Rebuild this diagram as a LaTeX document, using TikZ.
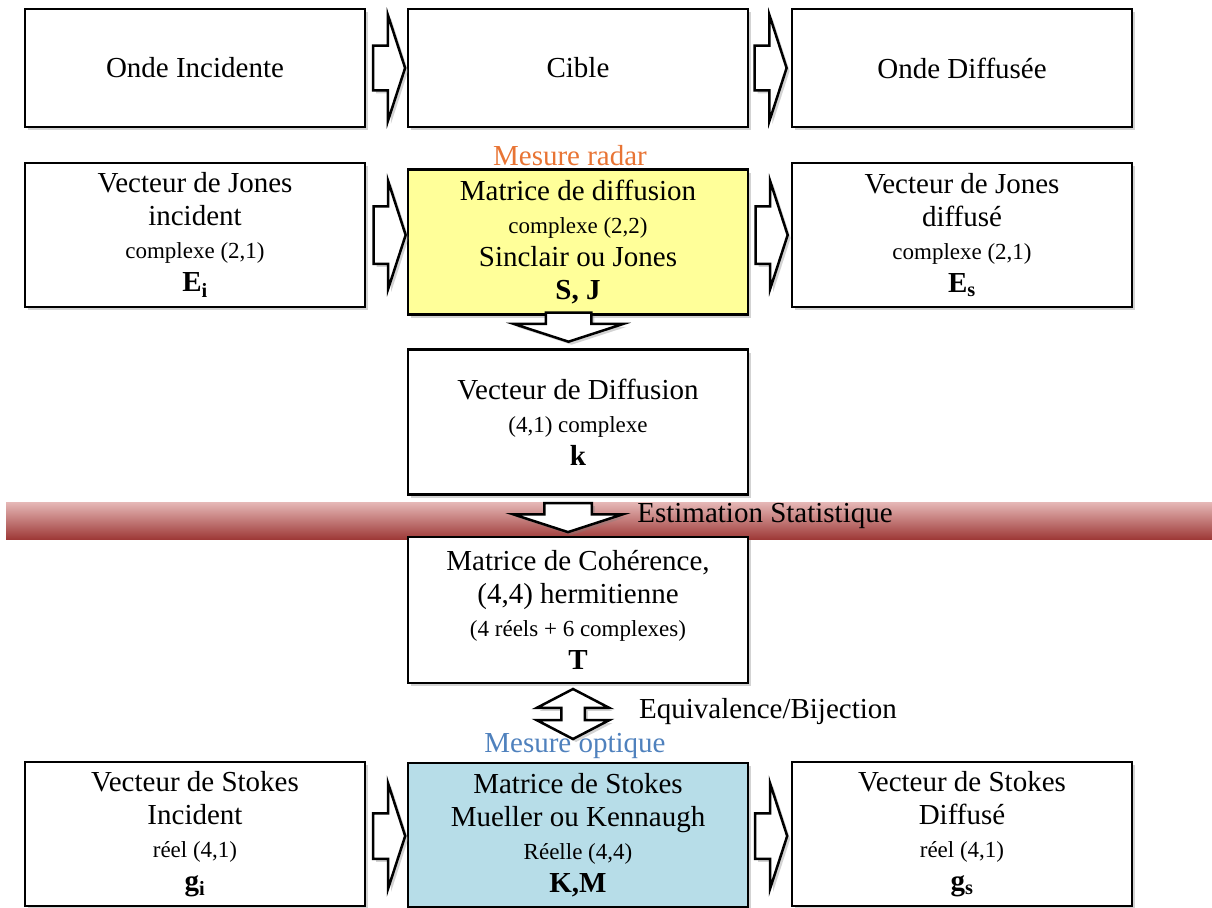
\documentclass[tikz,border=0pt]{standalone}
\usepackage{fontspec}
\setmainfont{Liberation Serif}
\usetikzlibrary{shapes.arrows, shadows, calc}
\definecolor{jaune}{RGB}{255,255,153}
\definecolor{bleuclair}{RGB}{183,221,232}
\definecolor{orangetxt}{RGB}{232,116,52}
\definecolor{bleutxt}{RGB}{79,129,189}
\definecolor{rougehaut}{RGB}{230,184,183}
\definecolor{rougemilieu}{RGB}{217,150,148}
\definecolor{rougebas}{RGB}{158,58,56}
\newcommand{\petit}[1]{{\fontsize{23}{33}\selectfont #1}}
\tikzset{
	ombre/.style={drop shadow={shadow xshift=3pt, shadow yshift=-3pt, opacity=.35}},
	boite/.style={draw, line width=2.5pt, fill=white, ombre, minimum width=340pt, align=center, font=\fontsize{29}{33}\selectfont},
	fleche/.style n args={3}{single arrow, draw, line width=2.5pt, fill=white, ombre, inner xsep=0pt, inner ysep=#2, single arrow head extend=#3, single arrow tip angle=144, minimum height=#1, minimum width=0pt},
	bifleche/.style={double arrow, draw, line width=2.5pt, fill=white, ombre, inner xsep=0pt, inner ysep=10.5pt, double arrow head extend=24.5pt, double arrow tip angle=125, minimum height=50pt, minimum width=0pt},
	legende/.style={font=\fontsize{29}{33}\selectfont}
}
\begin{document}
\begin{tikzpicture}[x=1pt, y=-1pt]
	\useasboundingbox(0, 0)rectangle(1212, 907);
	% bandeau estimation
	\shade[top color=rougehaut, middle color=rougemilieu, bottom color=rougebas](6, 502)rectangle(1212, 539);
	% ligne 1
	\node[boite, minimum height=118pt](oi)at(195, 68){Onde Incidente};
	\node[boite, minimum height=118pt](cib)at(578, 68){Cible};
	\node[boite, minimum height=118pt](od)at(962, 68){Onde Diffusée};
	% ligne 2
	\node[boite, minimum height=144pt](vji)at(195, 235){Vecteur de Jones\\incident\\\petit{complexe (2,1)}\\{\bfseries E\textsubscript{i}}};
	\node[boite, minimum height=145pt, fill=jaune](mdd)at(578, 242){Matrice de diffusion\\\petit{complexe (2,2)}\\Sinclair ou Jones\\{\bfseries S, J}};
	\node[boite, minimum height=144pt](vjd)at(962, 235){Vecteur de Jones\\diffusé\\\petit{complexe (2,1)}\\{\bfseries E\textsubscript{s}}};
	% vecteur k
	\node[boite, minimum height=145pt](vdd)at(578, 422){Vecteur de Diffusion\\\petit{(4,1) complexe}\\{\bfseries k}};
	% coherence
	\node[boite, minimum height=146pt](mdc)at(578, 610){Matrice de Cohérence,\\(4,4) hermitienne\\\petit{(4 réels + 6 complexes)}\\{\bfseries T}};
	% ligne stokes
	\node[boite, minimum height=144pt](vsi)at(195, 834){Vecteur de Stokes\\Incident\\\petit{réel (4,1)}\\{\bfseries g\textsubscript{i}}};
	\node[boite, minimum height=144pt, fill=bleuclair](mds)at(578, 835){Matrice de Stokes\\Mueller ou Kennaugh\\\petit{Réelle (4,4)}\\{\bfseries K,M}};
	\node[boite, minimum height=144pt](vsd)at(962, 834){Vecteur de Stokes\\Diffusé\\\petit{réel (4,1)}\\{\bfseries g\textsubscript{s}}};
	% fleches
	\node[fleche={32pt}{21pt}{30.5pt}, xshift=-1pt](f1)at($(oi.east)!.5!(cib.west)$){};
	\node[fleche={32pt}{21pt}{30.5pt}, xshift=-3pt](f2)at($(cib.east)!.5!(od.west)$){};
	\node[fleche={32pt}{27.5pt}{25pt}, xshift=-1.5pt](f3)at($(vji.east)!.5!(vji.east-|mdd.west)$){};
	\node[fleche={32pt}{27.5pt}{25pt}, xshift=-3pt](f4)at($(vjd.west)!.5!(vjd.west-|mdd.east)$){};
	\node[fleche={32pt}{21.5pt}{30pt}, xshift=-1pt, yshift=-2pt](f5)at($(vsi.east)!.5!(vsi.east-|mds.west)$){};
	\node[fleche={32pt}{21.5pt}{30pt}, xshift=-2.5pt, yshift=-2pt](f6)at($(vsd.west)!.5!(vsd.west-|mds.east)$){};
	\node[fleche={29pt}{21.5pt}{32pt}, xshift=-9.5pt, yshift=8.5pt, rotate=-90](f7)at($(mdd.south)!.5!(vdd.north)$){};
	\node[fleche={29pt}{22.5pt}{31pt}, xshift=-10pt, yshift=2pt, rotate=-90](f8)at($(vdd.south)!.5!(mdc.north)$){};
	\node[bifleche, xshift=-5pt, yshift=9pt, rotate=90](f9)at($(mdc.south)!.5!(mds.north)$){};
	% textes
	\node[legende, text=orangetxt](mr)at($(mdd.north)+(-8, -13)$){Mesure radar};
	\node[legende, text=bleutxt](mo)at($(mds.north)+(-3, -16)$){Mesure optique};
	\node[legende](es)at(765, 516){Estimation Statistique};
	\node[legende](eb)at(768, 712){Equivalence/Bijection};
\end{tikzpicture}
\end{document}
